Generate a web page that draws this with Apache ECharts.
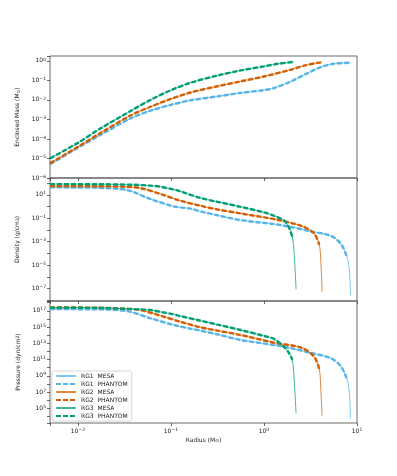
<!DOCTYPE html>
<html>
<head>
<meta charset="utf-8">
<script src="https://cdn.jsdelivr.net/npm/echarts@6/dist/echarts.min.js"></script>
<style>
  html, body { margin: 0; padding: 0; background: #fff; }
  #chart { width: 397px; height: 476px; }
</style>
</head>
<body>
<div id="chart"></div>
<script>
// values, kept as log10 exponents (axes are drawn in decades)
// enclosed mass panel
const rg1MassLogR = [-2.3, -2.0, -1.76, -1.435, -1.22, -1.0, -0.79, -0.5, -0.25, 0, 0.11, 0.29, 0.47, 0.62, 0.75, 0.93];
const rg1LogMass  = [-5.3, -4.45, -3.8, -2.95, -2.55, -2.25, -2.02, -1.82, -1.64, -1.5, -1.39, -1.05, -0.63, -0.3, -0.15, -0.09];
const rg2MassLogR = [-2.3, -2.0, -1.76, -1.435, -1.22, -1.0, -0.79, -0.5, -0.25, 0, 0.29, 0.45, 0.62];
const rg2LogMass  = [-5.25, -4.4, -3.7, -2.8, -2.35, -1.95, -1.62, -1.3, -1.05, -0.8, -0.45, -0.22, -0.07];
const rg3MassLogR = [-2.3, -2.0, -1.76, -1.435, -1.22, -1.0, -0.79, -0.5, -0.25, 0, 0.15, 0.32];
const rg3LogMass  = [-5.0, -4.2, -3.47, -2.57, -2.0, -1.5, -1.12, -0.75, -0.49, -0.28, -0.15, -0.05];

// density + pressure panels
const rg1LogR = [-2.3, -1.8, -1.47, -1.22, -0.97, -0.79, -0.68, -0.5, -0.25, 0.11, 0.29, 0.47, 0.72, 0.83, 0.895, 0.92, 0.93];
const rg1LogRho = [1.63, 1.6, 1.4, 0.63, 0.01, -0.18, -0.42, -0.75, -1.16, -1.5, -1.73, -2.07, -2.5, -3.21, -4.35, -5.6, -7.55];
const rg1LogP = [17.2, 17.18, 16.96, 16.07, 15.25, 14.8, 14.55, 14.1, 13.4, 12.79, 12.4, 11.9, 11.16, 10.13, 8.5, 6.5, 3.8];
const rg2LogR = [-2.3, -1.8, -1.5, -1.33, -1.11, -0.9, -0.68, -0.5, -0.25, 0.11, 0.4, 0.54, 0.595, 0.61, 0.625];
const rg2LogRho = [1.74, 1.73, 1.68, 1.57, 1.06, 0.49, 0.06, -0.25, -0.59, -1.08, -1.65, -2.3, -3.27, -4.5, -7.26];
const rg2LogP = [17.4, 17.38, 17.25, 17.09, 16.39, 15.65, 14.96, 14.55, 14.02, 13.07, 12.46, 11.36, 9.85, 7.5, 4.1];
const rg3LogR = [-2.3, -1.8, -1.4, -1.22, -1.11, -0.97, -0.9, -0.68, -0.5, -0.25, 0, 0.11, 0.22, 0.27, 0.305, 0.325, 0.345];
const rg3LogRho = [1.91, 1.9, 1.85, 1.78, 1.68, 1.45, 1.29, 0.72, 0.4, -0.03, -0.5, -0.79, -1.22, -1.8, -2.6, -4.0, -7.06];
const rg3LogP = [17.37, 17.35, 17.2, 17.09, 16.85, 16.56, 16.35, 15.77, 15.3, 14.63, 13.9, 13.53, 12.5, 11.8, 10.95, 8.5, 4.4];

// PHANTOM profiles follow MESA but stop before the surface drop
const phantomPoints = { rg1: 15, rg2: 13, rg3: 15 };

const models = ['RG1', 'RG2', 'RG3'];
const colors = ['#56B4E9', '#D55E00', '#009E73'];

const minus = '\u2212';
function pow10Label(v, oddOnly) {
  const r = Math.round(v);
  if (Math.abs(v - r) > 0.01) return '';
  if (oddOnly && Math.abs(r % 2) !== 1) return '';
  return '10{s|' + (r < 0 ? minus + (-r) : r) + '}';
}

function pairs(logX, logY, n) {
  return logX.slice(0, n).map((x, i) => [x, logY[i]]);
}

const font = 'DejaVu Sans';
const rich = { s: { fontSize: 4.5, fontFamily: font, color: '#222', verticalAlign: 'top', padding: [0, 0, 3, 0] } };

const grids = [
  { left: 50, right: 40, top: 56, height: 122, show: true, borderColor: '#444', borderWidth: 0.8 },
  { left: 50, right: 40, top: 178, height: 123, show: true, borderColor: '#444', borderWidth: 0.8 },
  { left: 50, right: 40, top: 301, height: 122, show: true, borderColor: '#444', borderWidth: 0.8 }
];

const xAxes = [0, 1, 2].map(i => ({
  type: 'value', gridIndex: i, position: 'bottom',
  min: -2.3, max: 1, splitNumber: 3,
  axisLine: { show: false, onZero: false },
  axisTick: { show: true, length: 3, lineStyle: { color: '#444', width: 0.8 } },
  splitLine: { show: false },
  axisLabel: {
    show: i === 2, fontSize: 6, fontFamily: font, color: '#222', margin: 4,
    rich: rich,
    formatter: v => pow10Label(v, false)
  },
  name: i === 2 ? 'Radius (M{sub|\u2299})' : '',
  nameLocation: 'middle', nameGap: 14,
  nameTextStyle: { fontSize: 6, fontFamily: font, color: '#222',
    rich: { sub: { fontSize: 4.5, fontFamily: font, color: '#222', verticalAlign: 'bottom' } } }
}));

const yCfg = [
  { min: -6, max: 0.25, split: 6, odd: false, name: 'Enclosed Mass (M{sub|\u2299})' },
  { min: -8.05, max: 2.43, split: 10, odd: true, name: 'Density (g/cm{sup|3})' },
  { min: 3.2, max: 18.2, split: 15, odd: true, name: 'Pressure (dyn/cm{sup|2})' }
];

const yAxes = yCfg.map((c, i) => ({
  type: 'value', gridIndex: i, position: 'left',
  min: c.min, max: c.max, splitNumber: c.split,
  axisLine: { show: false, onZero: false },
  axisTick: { show: true, length: 3, lineStyle: { color: '#444', width: 0.8 } },
  splitLine: { show: false },
  axisLabel: {
    fontSize: 6, fontFamily: font, color: '#222', margin: 4,
    rich: rich,
    formatter: v => pow10Label(v, c.odd)
  },
  name: c.name, nameLocation: 'middle', nameRotate: 90, nameGap: 21,
  nameTextStyle: { fontSize: 6, fontFamily: font, color: '#222',
    rich: {
      sub: { fontSize: 4.5, fontFamily: font, color: '#222', verticalAlign: 'bottom' },
      sup: { fontSize: 4.5, fontFamily: font, color: '#222', verticalAlign: 'top' }
    } }
}));

const panelData = [
  [[rg1MassLogR, rg1LogMass], [rg2MassLogR, rg2LogMass], [rg3MassLogR, rg3LogMass]],
  [[rg1LogR, rg1LogRho], [rg2LogR, rg2LogRho], [rg3LogR, rg3LogRho]],
  [[rg1LogR, rg1LogP], [rg2LogR, rg2LogP], [rg3LogR, rg3LogP]]
];
const phantomN = [phantomPoints.rg1, phantomPoints.rg2, phantomPoints.rg3];

const series = [];
panelData.forEach((panel, p) => {
  panel.forEach((d, m) => {
    // mass panel: PHANTOM covers the whole profile
    const n = p === 0 ? d[0].length : phantomN[m];
    series.push({
      name: models[m] + '  MESA', type: 'line', xAxisIndex: p, yAxisIndex: p,
      data: pairs(d[0], d[1]), smooth: 0.3, symbol: 'none',
      lineStyle: { color: colors[m], width: 1, opacity: 0.75 },
      itemStyle: { color: colors[m] }
    });
    series.push({
      name: models[m] + '  PHANTOM', type: 'line', xAxisIndex: p, yAxisIndex: p,
      data: pairs(d[0], d[1], n), smooth: 0.3, symbol: 'none',
      lineStyle: { color: colors[m], width: 2.4, type: [5, 2] },
      itemStyle: { color: colors[m] }
    });
  });
});

const legendNames = [];
models.forEach(m => { legendNames.push(m + '  MESA', m + '  PHANTOM'); });

const chart = echarts.init(document.getElementById('chart'), null, { renderer: 'canvas' });
chart.setOption({
  animation: false,
  backgroundColor: '#fff',
  grid: grids,
  xAxis: xAxes,
  yAxis: yAxes,
  legend: {
    data: legendNames, orient: 'vertical', left: 52, top: 371,
    itemWidth: 20, itemHeight: 6, itemGap: 2,
    itemStyle: { opacity: 0 },
    textStyle: { fontSize: 6, fontFamily: font, color: '#222' },
    backgroundColor: '#fff', borderColor: '#ccc', borderWidth: 0.8, borderRadius: 2,
    padding: [2, 4, 2, 3]
  },
  series: series
});
</script>
</body>
</html>
